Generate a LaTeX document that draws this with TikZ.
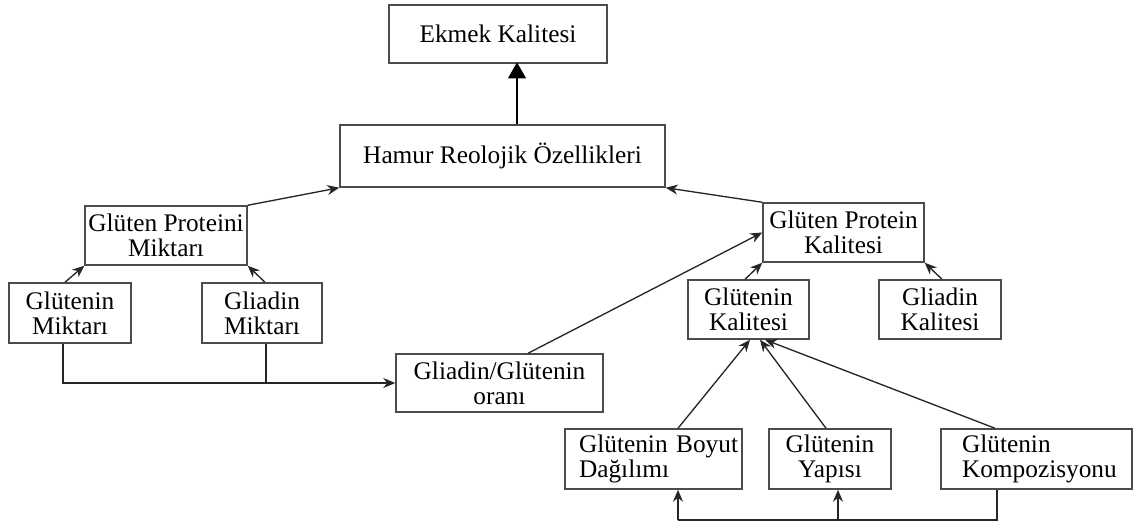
\documentclass[tikz,border=0pt]{standalone}
\usepackage{fontspec}
\setmainfont{Liberation Serif}
\usetikzlibrary{arrows.meta,calc}

\begin{document}
\begin{tikzpicture}[
  x=0.75pt, y=-0.75pt,
  box/.style={draw=black!70,line width=1.1pt,inner sep=0pt,align=center,font=\fontsize{19}{19}\selectfont},
  lbox/.style={box,align=left},
  conn/.style={black!85,line width=1pt,-{Stealth[length=9pt,width=7.5pt]}},
  link/.style={black!85,line width=1pt},
  bigconn/.style={line width=2.2pt,-{Triangle[length=12pt,width=13pt]}}
]
  \useasboundingbox (0,0) rectangle (1134,524);
  % top levels
  \node[box,minimum width=163.5pt,minimum height=43.5pt] (ekmek) at (498,34) {Ekmek Kalitesi};
  \node[box,minimum width=243.75pt,minimum height=46.5pt] (hamur) at (502.5,156) {Hamur Reolojik Özellikleri};
  % left branch
  \node[box,minimum width=121.5pt,minimum height=44.25pt] (gpm) at (166,235.5) {Glüten Proteini\\Miktarı};
  \node[box,minimum width=91.5pt,minimum height=45pt] (gtm) at (70,313) {Glütenin\\Miktarı};
  \node[box,minimum width=90pt,minimum height=45pt] (gdm) at (262,313) {Gliadin\\Miktarı};
  \node[box,minimum width=155.25pt,minimum height=43.5pt] (oran) at (499.5,383) {Gliadin/Glütenin\\oranı};
  % right branch
  \node[box,minimum width=120.75pt,minimum height=44.25pt] (gpk) at (843.5,232.5) {Glüten Protein\\Kalitesi};
  \node[box,minimum width=90.75pt,minimum height=44.25pt] (gtk) at (748.5,309.5) {Glütenin\\Kalitesi};
  \node[box,minimum width=91.5pt,minimum height=44.25pt] (gdk) at (940,309.5) {Gliadin\\Kalitesi};
  \node[lbox,inner xsep=10.5pt,text width=111.75pt,minimum height=45pt] (boyut) at (653.5,459) {\mbox{Glütenin Boyut}\\Dağılımı};
  \node[box,minimum width=91.5pt,minimum height=45pt] (yapi) at (830,459) {Glütenin\\Yapısı};
  \node[lbox,inner xsep=15.75pt,text width=111.75pt,minimum height=45pt] (komp) at (1036.5,459) {Glütenin\\\mbox{Kompozisyonu}};
  \coordinate (busR) at (997,520);
  \coordinate (busM) at (838,520);
  \coordinate (busL) at (678,520);

  \draw[bigconn] ($(hamur.north)+(14.5,0)$) -- ($(hamur.north)+(14.5,-62)$);
  \draw[conn] (gpm.north east) -- (hamur.south west);
  \draw[conn] (gpk.north west) -- (hamur.south east);
  \draw[conn] ($(gtm.north)+(-5,0)$) -- (gpm.south west);
  \draw[conn] ($(gdm.north)+(3,0)$) -- (gpm.south east);
  \draw[conn] ($(gtm.south)+(-7,0)$) |- (oran.west);
  \draw[link] ($(gdm.south)+(4,0)$) -- ($(gdm.south)+(4,40)$);
  \draw[conn] ($(oran.north)+(28.5,0)$) -- (gpk.west);
  \draw[conn] ($(gtk.north)+(-3.5,0)$) -- (gpk.south west);
  \draw[conn] ($(gdk.north)+(2,0)$) -- (gpk.south east);
  \draw[conn] ($(boyut.north)+(24.5,0)$) -- ($(gtk.south)+(1.5,0)$);
  \draw[conn] ($(yapi.north)+(-4,0)$) -- ($(gtk.south)+(11.5,0)$);
  \draw[conn] ($(komp.north)+(-41.5,0)$) -- ($(gtk.south)+(16.5,0)$);
  \draw[link] ($(komp.south)+(-39.5,0)$) -- (busR) -- (busL);
  \draw[conn] (busL) -- ($(boyut.south)+(24.5,0)$);
  \draw[conn] (busM) -- ($(yapi.south)+(8,0)$);
\end{tikzpicture}
\end{document}
